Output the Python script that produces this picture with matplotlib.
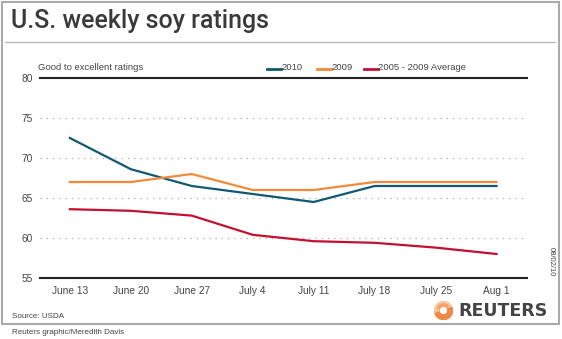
import matplotlib
matplotlib.use("Agg")
import matplotlib.pyplot as plt
from matplotlib.patches import Rectangle, Circle, Wedge
from matplotlib.lines import Line2D

weeks = ["June 13", "June 20", "June 27", "July 4", "July 11", "July 18", "July 25", "Aug 1"]
y2010 = [72.5, 68.6, 66.5, 65.5, 64.5, 66.5, 66.5, 66.5]
y2009 = [67.0, 67.0, 68.0, 66.0, 66.0, 67.0, 67.0, 67.0]
yavg = [63.6, 63.4, 62.8, 60.4, 59.6, 59.4, 58.8, 58.0]
yticks = [55, 60, 65, 70, 75, 80]

c2010 = "#0e5a72"
c2009 = "#f28a3a"
cavg = "#c4102f"
txt = "#444444"

plt.rcParams["font.family"] = ["Liberation Sans", "DejaVu Sans"]

W, H = 562, 339
fig = plt.figure(figsize=(W / 100, H / 100), dpi=100)
fig.patch.set_facecolor("white")

def fx(px):
    return px / W

def fy(py):
    return 1 - py / H

# outer frame
fig.add_artist(Rectangle((fx(2), fy(324)), fx(557), 322 / H, transform=fig.transFigure,
                         fill=False, edgecolor="#aaaaaa", linewidth=1.5))
# title separator
fig.add_artist(Line2D([fx(5), fx(555)], [fy(42), fy(42)], transform=fig.transFigure,
                      color="#bbbbbb", linewidth=1.0))
fig.text(fx(11), fy(21), "U.S. weekly soy ratings", fontsize=18, color="#3a3a3a",
         va="center", ha="left", family="Roboto", fontweight="medium")

ax = fig.add_axes([fx(40), fy(278), fx(527 - 40), (278 - 78) / H])
x = list(range(len(weeks)))
ax.plot(x, y2010, color=c2010, lw=1.6, solid_joinstyle="round")
ax.plot(x, y2009, color=c2009, lw=1.6, solid_joinstyle="round")
ax.plot(x, yavg, color=cavg, lw=1.6, solid_joinstyle="round")
ax.set_xlim(-0.49, 7.5)
ax.set_ylim(55, 80)
ax.set_yticks(yticks)
ax.set_xticks(x)
ax.set_xticklabels(weeks)
for t in yticks[1:-1]:
    ax.axhline(t, color="#aaaaaa", lw=0.9, ls=(0, (1, 4)), zorder=0)
for s in ["left", "right"]:
    ax.spines[s].set_visible(False)
for s in ["top", "bottom"]:
    ax.spines[s].set_color("#222222")
    ax.spines[s].set_linewidth(1.5)
ax.tick_params(length=0, labelsize=7.3, colors=txt, pad=6)
ax.tick_params(axis="y", pad=5)
ax.set_facecolor("none")

fig.text(fx(38), fy(68), "Good to excellent ratings", fontsize=6.8, color=txt, va="center")

# legend
def leg(xpx, label, col):
    fig.add_artist(Line2D([fx(xpx), fx(xpx + 14)], [fy(69), fy(69)], transform=fig.transFigure,
                          color=col, linewidth=2))
    fig.text(fx(xpx + 14), fy(68), label, fontsize=6.8, color=txt, va="center")

leg(267, "2010", c2010)
leg(317, "2009", c2009)
leg(364, "2005 - 2009 Average", cavg)

fig.text(fx(551), fy(262), "08/02/10", fontsize=5.5, color=txt, rotation=270,
         va="center", ha="center")

fig.text(fx(12), fy(317), "Source: USDA", fontsize=5.8, color=txt, va="center")
fig.text(fx(12), fy(333), "Reuters graphic/Meredith Davis", fontsize=5.8, color=txt, va="center")

# Reuters logo (approximate)
lax = fig.add_axes([fx(434), fy(320), fx(19), 19 / H])
lax.set_xlim(-1, 1)
lax.set_ylim(-1, 1)
lax.set_aspect("equal")
lax.axis("off")
lax.add_patch(Circle((0, 0), 0.95, color="#f8c9a0"))
lax.add_patch(Wedge((0, 0), 0.95, 200, 20, width=0.5, color="#ef8a44"))
lax.add_patch(Wedge((0, 0), 0.7, 40, 160, width=0.3, color="#f3a26a"))
lax.add_patch(Circle((0, 0), 0.3, color="white"))
fig.text(fx(458), fy(311), "REUTERS", fontsize=12.5, fontweight="bold", color="#444444",
         va="center", ha="left", family="DejaVu Sans")

fig.savefig("out.png", dpi=100, facecolor="white")
